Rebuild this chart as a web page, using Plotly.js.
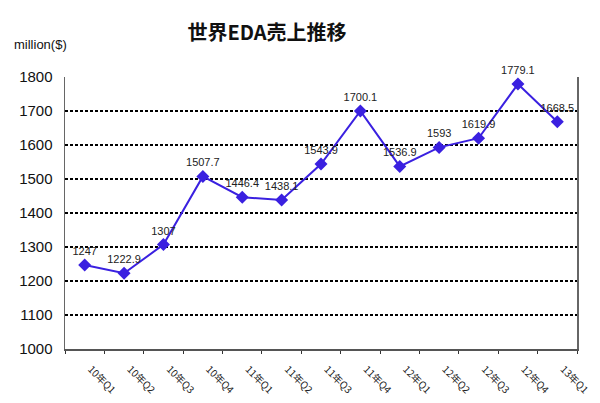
<!DOCTYPE html>
<html>
<head>
<meta charset="utf-8">
<script src="https://cdn.plot.ly/plotly-3.0.1.min.js"></script>
<style>
  body { margin: 0; background: #fff; }
  #plot { width: 600px; height: 403px; }
</style>
</head>
<body>
<div id="plot"></div>
<script>
const quarters = ['10年Q1', '10年Q2', '10年Q3', '10年Q4', '11年Q1', '11年Q2', '11年Q3',
                  '11年Q4', '12年Q1', '12年Q2', '12年Q3', '12年Q4', '13年Q1'];
const sales = [1247, 1222.9, 1307, 1507.7, 1446.4, 1438.1, 1543.9,
               1700.1, 1536.9, 1593, 1619.9, 1779.1, 1668.5];
const yTicks = [1000, 1100, 1200, 1300, 1400, 1500, 1600, 1700, 1800];

const lineColor = '#3a20e0';

let trace = {
    name: 'EDA',
    x: quarters,
    y: sales,
    type: 'scatter',
    mode: 'lines+markers+text',
    text: sales.map(v => String(v)),
    textposition: 'top center',
    textfont: { family: 'Liberation Sans, Arial, sans-serif', size: 11, color: '#222' },
    line: { color: lineColor, width: 2 },
    marker: { symbol: 'diamond', size: 10, color: lineColor },
    cliponaxis: false,
    hoverinfo: 'x+y'
};

let layout = {
    width: 600,
    height: 403,
    showlegend: false,
    paper_bgcolor: '#fff',
    plot_bgcolor: '#fff',
    margin: { l: 65, r: 23, t: 77, b: 54 },
    title: {
        text: '<b>世界EDA売上推移</b>',
        font: { family: 'Noto Sans CJK JP, sans-serif', size: 20, color: '#111' },
        x: 0.445,
        xanchor: 'center',
        y: 0.918,
        yanchor: 'middle'
    },
    xaxis: {
        type: 'category',
        range: [-0.5, 12.5],
        tickangle: 45,
        tickson: 'boundaries',
        ticks: 'outside',
        ticklen: 3,
        tickcolor: '#333',
        ticklabelstandoff: 9,
        ticklabelshift: 6,
        showline: true,
        linecolor: '#555',
        linewidth: 1.5,
        showgrid: false,
        automargin: false,
        tickfont: { family: 'Noto Sans CJK JP, sans-serif', size: 10, color: '#222' }
    },
    yaxis: {
        range: [1000, 1800],
        tickvals: yTicks,
        ticktext: yTicks.map(String),
        showline: true,
        mirror: true,
        linecolor: '#666',
        linewidth: 1.5,
        ticks: '',
        ticklabelstandoff: 8,
        showgrid: true,
        gridcolor: '#000',
        gridwidth: 1.3,
        griddash: '3px,2px',
        zeroline: false,
        automargin: false,
        tickfont: { family: 'Liberation Sans, Arial, sans-serif', size: 15, color: '#111' }
    },
    annotations: [{
        text: 'million($)',
        xref: 'paper',
        yref: 'paper',
        x: -0.104,
        y: 1.118,
        xanchor: 'left',
        yanchor: 'middle',
        showarrow: false,
        font: { family: 'Liberation Sans, Arial, sans-serif', size: 13, color: '#111' }
    }]
};

Plotly.newPlot(document.getElementById('plot'), [trace], layout, { displayModeBar: false, staticPlot: true });
</script>
</body>
</html>
